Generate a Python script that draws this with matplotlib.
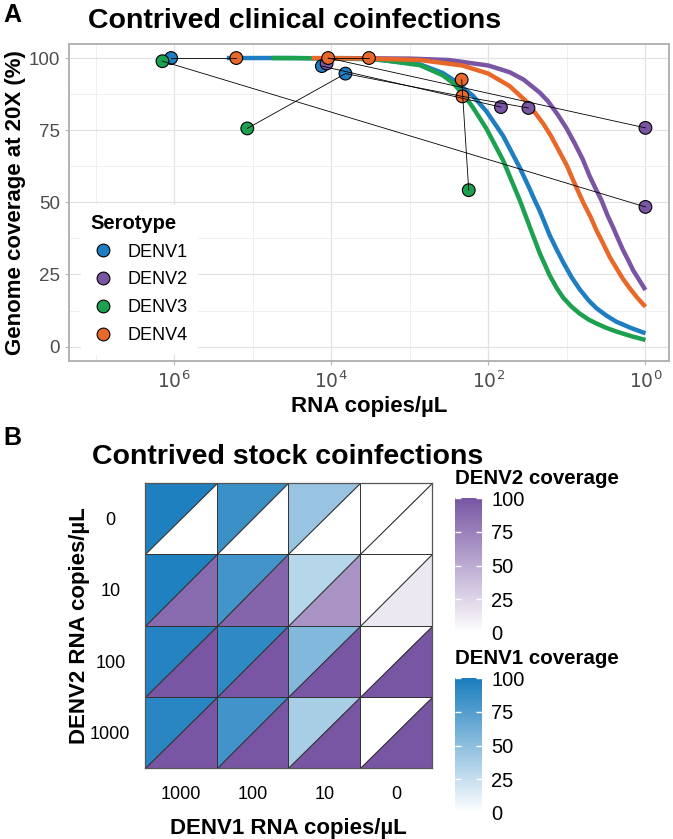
import matplotlib
matplotlib.use("Agg")
import matplotlib.pyplot as plt
from matplotlib.collections import PolyCollection
from matplotlib.colors import LinearSegmentedColormap, Normalize
from matplotlib.lines import Line2D
from matplotlib.ticker import NullFormatter

plt.rcParams['font.family'] = ['Liberation Sans', 'DejaVu Sans']

# ---- panel A data ----
serotypes = ['DENV1', 'DENV2', 'DENV3', 'DENV4']
sero_colors = ['#1f7ec1', '#7a55a3', '#1ba14f', '#e8682a']

# fitted curves (log10 copies/uL -> % coverage)
d1_log = [5.33, 4.5, 3.5, 2.87, 2.58, 2.45, 2.2, 2.024, 1.812, 1.6, 1.473, 1.41, 1.345, 1.218,
          1.13, 1.049, 0.94, 0.836, 0.72, 0.624, 0.5, 0.369, 0.18, 0.0]
d1_cov = [100, 100, 99.7, 97.8, 94.8, 92.5, 87.0, 81.5, 73.0, 62.0, 54.6, 50.7, 47.0, 38.5,
          33.6, 29.3, 24.0, 19.8, 15.9, 13.3, 10.8, 8.6, 6.4, 4.6]
d2_log = [4.0, 3.0, 2.5, 2.0, 1.73, 1.55, 1.345, 1.24, 1.12, 1.006, 0.9, 0.8, 0.709, 0.63,
          0.56, 0.48, 0.412, 0.35, 0.285, 0.22, 0.158, 0.08, 0.0]
d2_cov = [100, 99.8, 99.3, 97.4, 95.1, 92.5, 88.0, 85.0, 80.5, 75.7, 70.4, 65.0, 59.0, 54.5,
          50.7, 45.3, 41.3, 37.4, 33.4, 30.0, 26.5, 23.1, 19.6]
d3_log = [4.76, 4.0, 3.4, 2.87, 2.58, 2.45, 2.3, 2.2, 2.024, 1.812, 1.6, 1.473, 1.345, 1.218,
          1.13, 1.049, 0.94, 0.836, 0.72, 0.624, 0.5, 0.369, 0.18, 0.0]
d3_cov = [100, 99.9, 99.5, 97.5, 94.0, 91.3, 86.8, 83.0, 75.5, 64.5, 50.7, 41.5, 32.3, 24.6,
          20.3, 17.0, 13.8, 11.4, 9.3, 8.0, 6.5, 5.2, 3.6, 2.3]
d4_log = [4.25, 3.5, 2.87, 2.33, 2.0, 1.73, 1.51, 1.3, 1.205, 1.1, 1.0, 0.921, 0.85, 0.794,
          0.7, 0.624, 0.54, 0.454, 0.37, 0.285, 0.2, 0.1, 0.0]
d4_cov = [100, 99.8, 99.3, 97.4, 94.6, 90.3, 84.8, 77.2, 73.1, 67.8, 62.7, 57.7, 53.4, 50.0,
          45.0, 40.3, 35.8, 31.0, 27.2, 23.4, 20.2, 16.8, 13.8]

# samples
pt_sero = ['DENV1', 'DENV3', 'DENV4', 'DENV3', 'DENV1', 'DENV2', 'DENV4', 'DENV1',
           'DENV4', 'DENV4', 'DENV4', 'DENV3', 'DENV2', 'DENV2', 'DENV2', 'DENV2']
pt_log = [6.04, 6.15, 5.21, 5.07, 4.12, 4.06, 4.04, 3.82, 3.52, 2.34, 2.33, 2.25, 1.84, 1.49, 0.0, 0.0]
pt_cov = [100, 98.9, 100, 75.6, 97.2, 98.1, 100, 94.6, 100, 92.5, 86.7, 54.2, 83.0, 82.7, 75.8, 48.4]
links = [(0, 2), (1, 15), (3, 7), (6, 8), (6, 14), (4, 12), (7, 10), (10, 13), (9, 11)]

# ---- panel B data ----
denv1_levels = ['1000', '100', '10', '0']
denv2_levels = ['0', '10', '100', '1000']
denv1_cov = [[98, 85, 45, 0],
             [97, 82, 32, 0],
             [95, 91, 55, 0],
             [93, 83, 38, 0]]
denv2_cov = [[0, 0, 0, 0],
             [88, 91, 64, 14],
             [100, 100, 100, 100],
             [100, 100, 100, 100]]

fig = plt.figure(figsize=(6.73, 8.39), dpi=100)
W, H = 673, 839

# ================= panel A =================
ax = fig.add_axes([69 / W, 1 - 361 / H, 600 / W, (361 - 43.6) / H])
ax.set_xscale('log')
ax.set_xlim(10 ** 7.34, 10 ** -0.30)
ax.set_ylim(-5, 105)

ax.set_xticks([1e6, 1e4, 1e2, 1e0])
ax.set_xticklabels([r'$10^6$', r'$10^4$', r'$10^2$', r'$10^0$'])
ax.set_xticks([1e7, 1e5, 1e3, 1e1], minor=True)
ax.xaxis.set_minor_formatter(NullFormatter())
ax.set_yticks([0, 25, 50, 75, 100])
ax.set_yticks([12.5, 37.5, 62.5, 87.5], minor=True)
ax.grid(which='major', color='#e2e2e2', lw=0.9)
ax.grid(which='minor', color='#eeeeee', lw=0.6)
ax.set_axisbelow(True)
for s in ax.spines.values():
    s.set_color('#b3b3b3')
    s.set_linewidth(1.4)
ax.tick_params(which='major', length=3, color='#b3b3b3', labelcolor='#4d4d4d', labelsize=13.5)
ax.tick_params(which='minor', length=0)

curves = [(d1_log, d1_cov), (d2_log, d2_cov), (d3_log, d3_cov), (d4_log, d4_cov)]
for (lg, cv), col in zip(curves, sero_colors):
    ax.plot([10 ** v for v in lg], cv, color=col, lw=3.2, solid_capstyle='butt',
            solid_joinstyle='round', zorder=2)

pt_x = [10 ** v for v in pt_log]
pt_c = [sero_colors[serotypes.index(s)] for s in pt_sero]
ax.scatter(pt_x, pt_cov, s=84, c=pt_c, edgecolors='black', linewidths=0.8, zorder=3)
for a, b in links:
    ax.plot([pt_x[a], pt_x[b]], [pt_cov[a], pt_cov[b]], color='black', lw=0.6, zorder=4)

ax.set_xlabel('RNA copies/µL', fontsize=16, fontweight='bold', labelpad=3)
ax.set_ylabel('Genome coverage at 20X (%)', fontsize=16, fontweight='bold', labelpad=2)

handles = [Line2D([], [], ls='', marker='o', markersize=9.2, markerfacecolor=c,
                  markeredgecolor='black', markeredgewidth=0.8) for c in sero_colors]
leg = ax.legend(handles, serotypes, title='Serotype', loc='lower left',
                bbox_to_anchor=(0.02, 0.025), borderaxespad=0, fontsize=13,
                title_fontsize=14.5, frameon=True, framealpha=1, edgecolor='white',
                facecolor='white', handlelength=1.44, handletextpad=0.66,
                labelspacing=0.6, borderpad=0.5, fancybox=False)
leg.get_title().set_fontweight('bold')
leg._legend_box.align = 'left'

fig.text(3 / W, 1 - 22 / H, 'A', fontsize=18, fontweight='bold', va='baseline')
fig.text(88 / W, 1 - 28.5 / H, 'Contrived clinical coinfections', fontsize=20.5,
         fontweight='bold', va='baseline')

# ================= panel B =================
hx = fig.add_axes([145 / W, 1 - 768 / H, 286.7 / W, 285 / H])
hx.set_xlim(0, 4)
hx.set_ylim(4, 0)

up_verts, up_vals, lo_verts, lo_vals = [], [], [], []
for r in range(len(denv2_levels)):
    for c in range(len(denv1_levels)):
        up_verts.append([(c, r + 1), (c, r), (c + 1, r)])
        up_vals.append(denv1_cov[r][c])
        lo_verts.append([(c, r + 1), (c + 1, r + 1), (c + 1, r)])
        lo_vals.append(denv2_cov[r][c])

norm = Normalize(0, 100)
blue_cmap = LinearSegmentedColormap.from_list('d1', ['#ffffff', '#1a7dbe'])
purple_cmap = LinearSegmentedColormap.from_list('d2', ['#ffffff', '#7856a3'])
pc1 = PolyCollection(up_verts, array=up_vals, cmap=blue_cmap, norm=norm,
                     edgecolors='#333333', linewidths=0.7)
pc2 = PolyCollection(lo_verts, array=lo_vals, cmap=purple_cmap, norm=norm,
                     edgecolors='#333333', linewidths=0.7)
hx.add_collection(pc1)
hx.add_collection(pc2)

hx.set_xticks([0.5, 1.5, 2.5, 3.5])
hx.set_xticklabels(denv1_levels)
hx.set_yticks([0.5, 1.5, 2.5, 3.5])
hx.set_yticklabels(denv2_levels, ha='center')
hx.tick_params(length=0, labelsize=13, labelcolor='black')
hx.tick_params(axis='x', pad=13)
hx.tick_params(axis='y', pad=25)
for s in hx.spines.values():
    s.set_color('#555555')
    s.set_linewidth(0.9)
hx.set_xlabel('DENV1 RNA copies/µL', fontsize=16, fontweight='bold', labelpad=11)
hx.set_ylabel('DENV2 RNA copies/µL', fontsize=16, fontweight='bold', labelpad=0)

fig.text(3 / W, 1 - 445 / H, 'B', fontsize=18, fontweight='bold', va='baseline')
fig.text(92 / W, 1 - 464 / H, 'Contrived stock coinfections', fontsize=20.5,
         fontweight='bold', va='baseline')

# colour bars
for pc, top, title in [(pc2, 498, 'DENV2 coverage'), (pc1, 678, 'DENV1 coverage')]:
    cax = fig.add_axes([455 / W, 1 - (top + 135) / H, 26.5 / W, 135 / H])
    cb = fig.colorbar(pc, cax=cax, ticks=[0, 25, 50, 75, 100])
    cb.outline.set_visible(False)
    cax.tick_params(axis='y', left=True, right=True, direction='in', color='white',
                    length=4, width=1, labelsize=14.5, pad=7)
    fig.text(455 / W, 1 - (top - 14) / H, title, fontsize=14.8, fontweight='bold',
             va='baseline')

fig.savefig('out.png', dpi=100)
